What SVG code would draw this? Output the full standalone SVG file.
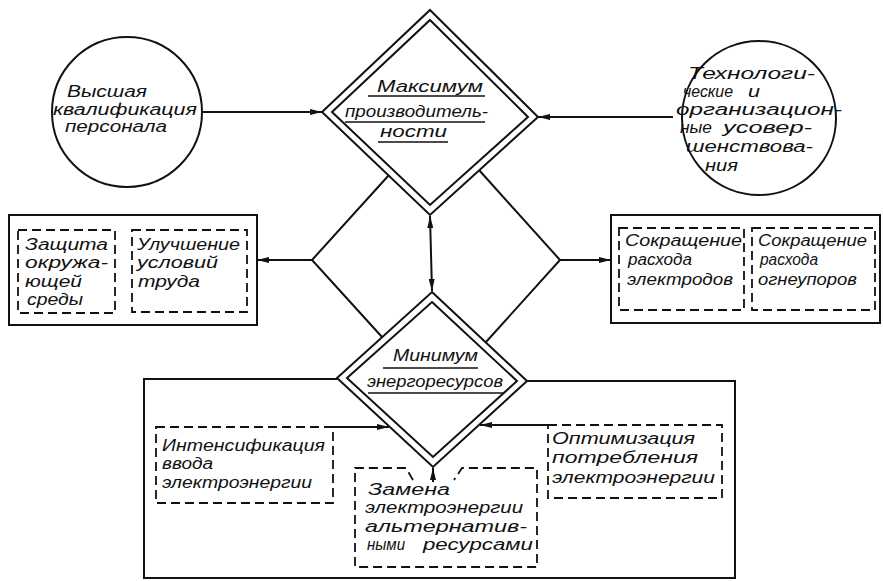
<svg xmlns="http://www.w3.org/2000/svg" width="883" height="581" viewBox="0 0 883 581">
<style>
.s{fill:none;stroke:#111;stroke-width:2}
.d{fill:none;stroke:#111;stroke-width:1.8;stroke-dasharray:9 5}
.u{stroke:#111;stroke-width:1.6}
text{font-family:"Liberation Sans","DejaVu Sans",sans-serif;font-style:italic;font-size:16px;fill:#111}
</style>
<defs>
<marker id="ah" viewBox="0 0 12 6" refX="12" refY="3" markerWidth="12" markerHeight="6" markerUnits="userSpaceOnUse" orient="auto-start-reverse"><path d="M0,0 L12,3 L0,6 z" fill="#111"/></marker>
</defs>
<rect width="883" height="581" fill="#fff"/>

<g id="connectors">
<line class="s" x1="202" y1="112" x2="322" y2="112" marker-end="url(#ah)"/>
<line class="s" x1="673" y1="117" x2="538" y2="117" marker-end="url(#ah)"/>
<polyline class="s" points="389,175 312,260 382,337"/>
<polyline class="s" points="479,170 560,260 486,342"/>
<line class="s" x1="312" y1="260" x2="257" y2="260" marker-end="url(#ah)"/>
<line class="s" x1="560" y1="260" x2="611" y2="260" marker-end="url(#ah)"/>
<line class="s" x1="430" y1="216" x2="432" y2="291" marker-start="url(#ah)" marker-end="url(#ah)"/>
<polyline class="s" points="337,379 144,379 144,578 735,578 735,381 527,381"/>
<line class="s" x1="333" y1="427" x2="389" y2="427" marker-end="url(#ah)"/>
<line class="s" x1="548" y1="425" x2="480" y2="425" marker-end="url(#ah)"/>
<line class="s" x1="433" y1="482" x2="433" y2="468" marker-end="url(#ah)"/>
</g>

<g id="node-personnel">
<circle class="s" cx="127" cy="112" r="75"/>
<text x="67" y="97" textLength="80" lengthAdjust="spacingAndGlyphs">Высшая</text>
<text x="53" y="115" textLength="144" lengthAdjust="spacingAndGlyphs">квалификация</text>
<text x="65" y="132" textLength="102" lengthAdjust="spacingAndGlyphs">персонала</text>
</g>

<g id="node-technology">
<circle class="s" cx="759" cy="118" r="77"/>
<text x="688" y="79" textLength="127" lengthAdjust="spacingAndGlyphs">Технологи-</text>
<text x="683" y="97" textLength="50" lengthAdjust="spacingAndGlyphs">ческие</text>
<text x="748" y="97" textLength="12" lengthAdjust="spacingAndGlyphs">и</text>
<text x="676" y="115" textLength="166" lengthAdjust="spacingAndGlyphs">организацион-</text>
<text x="680" y="133" textLength="32" lengthAdjust="spacingAndGlyphs">ные</text>
<text x="723" y="133" textLength="89" lengthAdjust="spacingAndGlyphs">усовер-</text>
<text x="686" y="152" textLength="127" lengthAdjust="spacingAndGlyphs">шенствова-</text>
<text x="705" y="171" textLength="33" lengthAdjust="spacingAndGlyphs">ния</text>
</g>

<g id="node-max-productivity">
<polygon class="s" points="430,10 538,117 430,215 322,112"/>
<polygon class="s" points="430,20 528,117 430,205 332,112"/>
<text x="377" y="92" textLength="106" lengthAdjust="spacingAndGlyphs">Максимум</text>
<line class="u" x1="368" y1="96" x2="485" y2="96"/>
<text x="345" y="117" textLength="143" lengthAdjust="spacingAndGlyphs">производитель-</text>
<line class="u" x1="345" y1="122" x2="485" y2="122"/>
<text x="380" y="137" textLength="67" lengthAdjust="spacingAndGlyphs">ности</text>
<line class="u" x1="378" y1="142" x2="448" y2="142"/>
</g>

<g id="node-min-energy">
<polygon class="s" points="432,292 527,381 433,467 337,378"/>
<polygon class="s" points="432,302 517,381 433,457 347,378"/>
<text x="393" y="361" textLength="85" lengthAdjust="spacingAndGlyphs">Минимум</text>
<line class="u" x1="383" y1="368" x2="478" y2="368"/>
<text x="367" y="387" textLength="136" lengthAdjust="spacingAndGlyphs">энергоресурсов</text>
<line class="u" x1="368" y1="393" x2="503" y2="393"/>
</g>

<g id="node-left-box">
<rect class="s" x="9" y="215" width="248" height="110"/>
<rect class="d" x="18" y="230" width="97" height="83"/>
<rect class="d" x="132" y="230" width="115" height="82"/>
<text x="25" y="250" textLength="83" lengthAdjust="spacingAndGlyphs">Защита</text>
<text x="25" y="268" textLength="83" lengthAdjust="spacingAndGlyphs">окружа-</text>
<text x="25" y="287" textLength="57" lengthAdjust="spacingAndGlyphs">ющей</text>
<text x="27" y="305" textLength="56" lengthAdjust="spacingAndGlyphs">среды</text>
<text x="137" y="250" textLength="103" lengthAdjust="spacingAndGlyphs">Улучшение</text>
<text x="137" y="268" textLength="81" lengthAdjust="spacingAndGlyphs">условий</text>
<text x="138" y="287" textLength="62" lengthAdjust="spacingAndGlyphs">труда</text>
</g>

<g id="node-right-box">
<rect class="s" x="611" y="215" width="269" height="108"/>
<rect class="d" x="619" y="228" width="125" height="82"/>
<rect class="d" x="752" y="228" width="123" height="82"/>
<text x="625" y="246" textLength="117" lengthAdjust="spacingAndGlyphs">Сокращение</text>
<text x="628" y="265" textLength="64" lengthAdjust="spacingAndGlyphs">расхода</text>
<text x="627" y="285" textLength="106" lengthAdjust="spacingAndGlyphs">электродов</text>
<text x="758" y="246" textLength="109" lengthAdjust="spacingAndGlyphs">Сокращение</text>
<text x="760" y="265" textLength="58" lengthAdjust="spacingAndGlyphs">расхода</text>
<text x="758" y="285" textLength="99" lengthAdjust="spacingAndGlyphs">огнеупоров</text>
</g>

<g id="node-intensification">
<rect class="d" x="156" y="427" width="177" height="76"/>
<text x="162" y="451" textLength="163" lengthAdjust="spacingAndGlyphs">Интенсификация</text>
<text x="162" y="469" textLength="51" lengthAdjust="spacingAndGlyphs">ввода</text>
<text x="162" y="488" textLength="150" lengthAdjust="spacingAndGlyphs">электроэнергии</text>
</g>

<g id="node-optimization">
<rect class="d" x="548" y="425" width="174" height="73"/>
<text x="552" y="444" textLength="143" lengthAdjust="spacingAndGlyphs">Оптимизация</text>
<text x="552" y="463" textLength="146" lengthAdjust="spacingAndGlyphs">потребления</text>
<text x="552" y="483" textLength="163" lengthAdjust="spacingAndGlyphs">электроэнергии</text>
</g>

<g id="node-replacement">
<path class="d" d="M413,480 L406,468 L355,468 L355,567 L537,567 L537,468 L462,468 L454,480"/>
<text x="368" y="495" textLength="82" lengthAdjust="spacingAndGlyphs">Замена</text>
<text x="365" y="513" textLength="158" lengthAdjust="spacingAndGlyphs">электроэнергии</text>
<text x="365" y="532" textLength="162" lengthAdjust="spacingAndGlyphs">альтернатив-</text>
<text x="367" y="550" textLength="38" lengthAdjust="spacingAndGlyphs">ными</text>
<text x="423" y="550" textLength="110" lengthAdjust="spacingAndGlyphs">ресурсами</text>
</g>
</svg>
